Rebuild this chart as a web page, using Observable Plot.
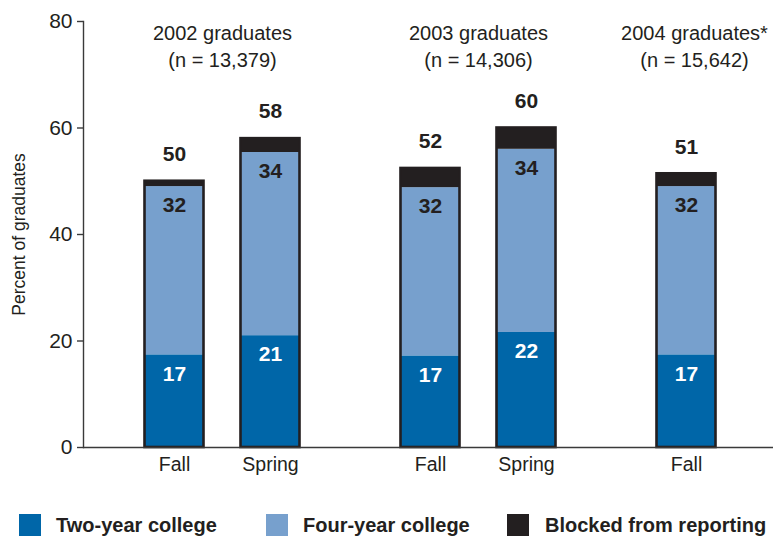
<!DOCTYPE html>
<html>
<head>
<meta charset="utf-8">
<script src="https://cdn.jsdelivr.net/npm/d3@7"></script>
<script src="https://cdn.jsdelivr.net/npm/@observablehq/plot@0.6"></script>
<style>
  body { margin: 0; background: #fff; }
  #wrap { position: relative; width: 773px; height: 540px; color: #231f20;
    font-family: "Liberation Sans", Arial, sans-serif; }
  #chart svg { display: block; }
  .legend { position: relative; height: 40px; }
  .sw { position: absolute; top: 14px; width: 22px; height: 22px; }
  .lt { position: absolute; top: 13px; font-size: 20px; line-height: 24px; font-weight: bold; white-space: nowrap; }
</style>
</head>
<body>
<div id="wrap">
  <div id="chart"></div>
  <div class="legend" id="legend"></div>
</div>
<script>
// ---- data ----
const years = ["2002", "2003", "2004"];
const yearTitles = ["2002 graduates\n(n = 13,379)", "2003 graduates\n(n = 14,306)", "2004 graduates*\n(n = 15,642)"];
const barYears = ["2002", "2002", "2003", "2003", "2004"];
const barSeasons = ["Fall", "Spring", "Fall", "Spring", "Fall"];
const types = ["Two-year college", "Four-year college", "Blocked from reporting"];
const twoYear = [17.4, 21.0, 17.2, 21.6, 17.4];
const fourYear = [31.6, 34.4, 31.6, 34.4, 31.6];
const blocked = [1.0, 2.6, 3.6, 4.0, 2.4];
const yTicks = [0, 20, 40, 60, 80];
const colors = ["#0066a8", "#77a0cd", "#231f20"];

// ---- layout (slot grid for grouped bars) ----
const FONT = '"Liberation Sans", Arial, sans-serif';
const GROUP_SLOTS = 16, SEASON_SLOTS = 6;
const seasonsOrder = ["Fall", "Spring"];
const slotOf = i => years.indexOf(barYears[i]) * GROUP_SLOTS + seasonsOrder.indexOf(barSeasons[i]) * SEASON_SLOTS;
const barSlots = barYears.map((_, i) => slotOf(i));
const seasonBySlot = new Map(barSlots.map((s, i) => [s, barSeasons[i]]));
const series = [twoYear, fourYear, blocked];

const rows = barYears.flatMap((_, i) => types.map((t, k) => ({slot: barSlots[i], type: t, value: series[k][i]})));
const bars = barYears.map((_, i) => ({
  slot: barSlots[i], two: twoYear[i], four: fourYear[i],
  twoFour: twoYear[i] + fourYear[i], total: twoYear[i] + fourYear[i] + blocked[i]
}));
const titles = years.map((y, g) => {
  const s = barSlots.filter((_, i) => barYears[i] === y);
  return {slot: Math.round(d3.mean(s)), title: yearTitles[g], single: s.length === 1};
});

const INSET = -21.5;
const chart = Plot.plot({
  width: 773, height: 500,
  marginLeft: 83, marginRight: 0, marginTop: 21, marginBottom: 53,
  style: {fontFamily: FONT, color: "#231f20", background: "#fff", overflow: "visible"},
  x: {type: "band", domain: d3.range(2 * GROUP_SLOTS + 1), range: [166, 694], padding: 0},
  y: {domain: [0, 80]},
  color: {domain: types, range: colors},
  marks: [
    Plot.barY(rows, {x: "slot", y: "value", fill: "type", insetLeft: INSET, insetRight: INSET}),
    Plot.barY(bars, {x: "slot", y: "total", fill: "none", stroke: "#231f20", strokeWidth: 2.6, insetLeft: INSET, insetRight: INSET}),
    Plot.ruleY([0], {stroke: "#3a3a3a", strokeWidth: 1.4}),
    Plot.frame({anchor: "left", stroke: "#3a3a3a", strokeWidth: 1.4}),
    Plot.axisY({ticks: yTicks, tickSize: 6, tickPadding: 5, fontSize: 21, label: null, stroke: "#3a3a3a", strokeWidth: 1.4}),
    Plot.axisX({ticks: barSlots, tickSize: 0, tickPadding: 10, fontSize: 19.5, label: null, tickFormat: s => seasonBySlot.get(s)}),
    Plot.text(["Percent of graduates"], {frameAnchor: "left", textAnchor: "middle", rotate: -90, dx: -64, fontSize: 17.5}),
    Plot.text(bars, {x: "slot", y: "two", text: d => Math.round(d.two), dy: 19, fill: "white", fontWeight: "bold", fontSize: 21}),
    Plot.text(bars, {x: "slot", y: "twoFour", text: d => Math.round(d.four), dy: 19, fill: "#231f20", fontWeight: "bold", fontSize: 21}),
    Plot.text(bars, {x: "slot", y: "total", text: d => Math.round(d.total), dy: -27, fill: "#231f20", fontWeight: "bold", fontSize: 21}),
    Plot.text(titles.filter(d => !d.single), {x: "slot", frameAnchor: "top", text: "title", lineAnchor: "top", fontSize: 20, lineHeight: 1.33}),
    Plot.text(titles.filter(d => d.single), {x: "slot", frameAnchor: "top", text: "title", lineAnchor: "top", fontSize: 20, lineHeight: 1.33, dx: 8})
  ]
});
document.getElementById("chart").appendChild(chart);

// ---- legend ----
const legendPos = [[19, 56], [266, 303], [507, 545]];
const legend = document.getElementById("legend");
types.forEach((t, k) => {
  const sw = document.createElement("div");
  sw.className = "sw"; sw.style.left = legendPos[k][0] + "px"; sw.style.background = colors[k];
  const lt = document.createElement("div");
  lt.className = "lt"; lt.style.left = legendPos[k][1] + "px"; lt.textContent = t;
  legend.appendChild(sw); legend.appendChild(lt);
});
</script>
</body>
</html>
